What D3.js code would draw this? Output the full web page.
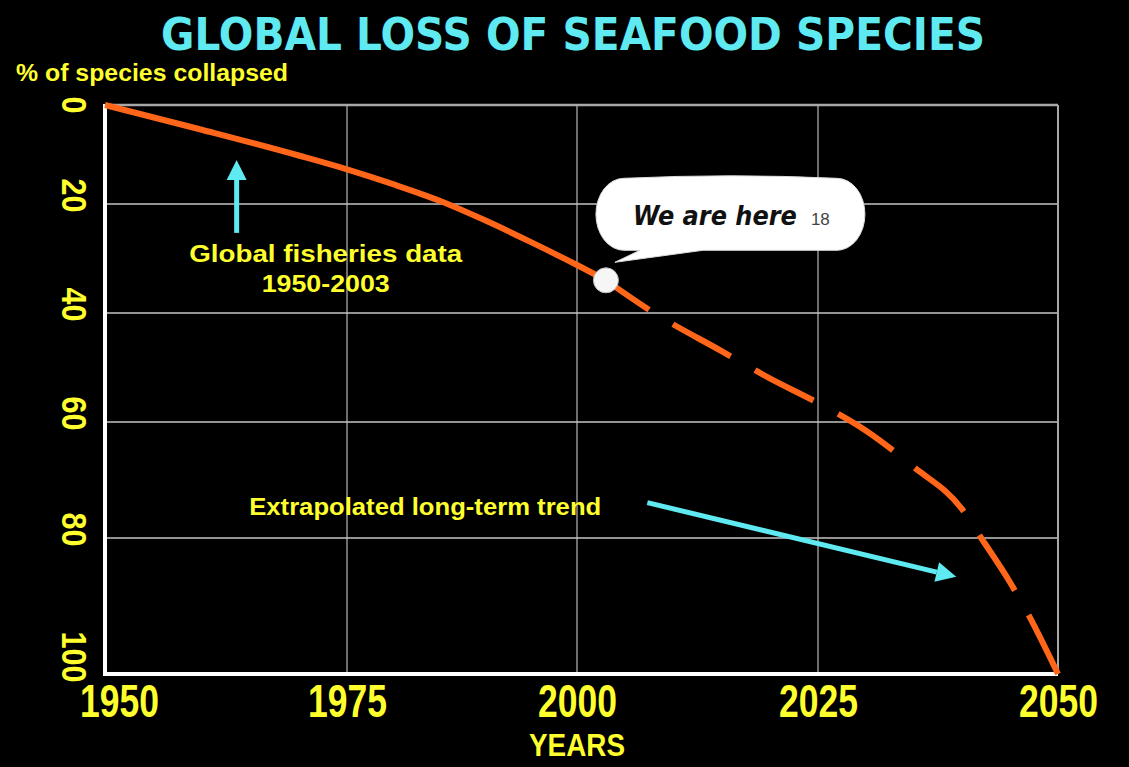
<!DOCTYPE html>
<html>
<head>
<meta charset="utf-8">
<script src="https://cdn.jsdelivr.net/npm/d3@7"></script>
<style>
  html, body { margin: 0; padding: 0; background: #000; }
  svg { display: block; }
</style>
</head>
<body>
<svg id="chart" width="1129" height="767"></svg>
<script>
// Axis ticks
const yearTicks = [1950, 1975, 2000, 2025, 2050];
const pctTicks = [0, 20, 40, 60, 80, 100];

// Observed share of collapsed species (global fisheries data)
const observedYears = [1950, 1960, 1970, 1975, 1980, 1985, 1990, 1995, 2000, 2003];
const observedPct   = [0, 5, 10.2, 13, 16, 19.3, 23, 27, 31.2, 34];

// Extrapolated long-term trend
const trendYears = [2003, 2008, 2015, 2020, 2025, 2030, 2035, 2040, 2042, 2045, 2047, 2050];
const trendPct   = [34, 40, 47, 52, 56.5, 61.5, 67.8, 75, 80, 86.5, 91.5, 100];

// Annotation anchors, in data units [year, percent]
const nowPoint = [2003, 34];
const upArrow = { from: [1963.6, 25.3], to: [1963.6, 11.1] };
const trendArrow = { from: [2007.3, 73.9], to: [2039.4, 85.7] };

const W = 1129, H = 767;
const YELLOW = "#ffff2e";
const CYAN = "#5eeaf0";
const ORANGE = "#ff661a";
const SANS = "'Liberation Sans', Arial, sans-serif";

const svg = d3.select("#chart");
svg.append("rect").attr("width", W).attr("height", H).attr("fill", "#000");

// Scales (the hand-drawn grid is slightly uneven, so each tick gets its own stop)
const x = d3.scaleLinear().domain(yearTicks).range([105, 347, 577, 818, 1058]);
const y = d3.scaleLinear().domain(pctTicks).range([105, 204, 313, 422, 538, 674]);

const x0 = x(yearTicks[0]), x1 = x(yearTicks[yearTicks.length - 1]);
const y0 = y(pctTicks[0]), y1 = y(pctTicks[pctTicks.length - 1]);

// Grid
const grid = svg.append("g");
grid.selectAll("line.v").data(yearTicks.slice(1, -1)).join("line")
  .attr("x1", d => x(d)).attr("x2", d => x(d))
  .attr("y1", y0).attr("y2", y1)
  .attr("stroke", "#b8b8b8").attr("stroke-width", 1.2);
grid.selectAll("line.h").data(pctTicks.slice(1, -1)).join("line")
  .attr("x1", x0).attr("x2", x1)
  .attr("y1", d => y(d)).attr("y2", d => y(d))
  .attr("stroke", "#c4c4c4").attr("stroke-width", 1.6);

// Frame: grey top/right, white left/bottom
grid.append("line").attr("x1", x0).attr("x2", x1).attr("y1", y0).attr("y2", y0)
  .attr("stroke", "#a8a8a8").attr("stroke-width", 2.5);
grid.append("line").attr("x1", x1).attr("x2", x1).attr("y1", y0).attr("y2", y1)
  .attr("stroke", "#a8a8a8").attr("stroke-width", 2);
grid.append("line").attr("x1", x0).attr("x2", x0).attr("y1", y0 - 1).attr("y2", y1 + 2)
  .attr("stroke", "#ffffff").attr("stroke-width", 4);
grid.append("line").attr("x1", x0 - 2).attr("x2", x1).attr("y1", y1).attr("y2", y1)
  .attr("stroke", "#ffffff").attr("stroke-width", 4);

// X axis labels
const xAxis = svg.append("g").attr("transform", `translate(0,${y1})`)
  .call(d3.axisBottom(x).tickValues(yearTicks).tickSize(0).tickFormat(d3.format("d")));
xAxis.select(".domain").remove();
xAxis.selectAll("text")
  .attr("y", 43).attr("dy", 0)
  .attr("dx", (d, i) => i === 0 ? 14 : 0)
  .attr("fill", YELLOW)
  .attr("font-family", SANS).attr("font-weight", "bold").attr("font-size", 46)
  .attr("text-anchor", "middle")
  .attr("textLength", 79).attr("lengthAdjust", "spacingAndGlyphs");

svg.append("text")
  .attr("x", x(2000)).attr("y", 756)
  .attr("text-anchor", "middle")
  .attr("fill", YELLOW).attr("font-family", SANS).attr("font-weight", "bold").attr("font-size", 31)
  .attr("textLength", 96).attr("lengthAdjust", "spacingAndGlyphs")
  .text("YEARS");

// Y axis labels, rotated to read top-to-bottom
const yAxis = svg.append("g").attr("transform", `translate(${x0},0)`)
  .call(d3.axisLeft(y).tickValues(pctTicks).tickSize(0).tickFormat(d3.format("d")));
yAxis.select(".domain").remove();
yAxis.selectAll("text")
  .attr("x", null).attr("dy", null)
  .attr("transform", "translate(-43,8) rotate(90)")
  .attr("text-anchor", "end")
  .attr("fill", YELLOW)
  .attr("font-family", SANS).attr("font-weight", "bold").attr("font-size", 35)
  .attr("textLength", d => String(d).length * 17)
  .attr("lengthAdjust", "spacingAndGlyphs");

svg.append("text")
  .attr("x", 16).attr("y", 81)
  .attr("fill", YELLOW).attr("font-family", SANS).attr("font-weight", "bold").attr("font-size", 24)
  .attr("textLength", 272).attr("lengthAdjust", "spacingAndGlyphs")
  .text("% of species collapsed");

// Title
svg.append("text")
  .attr("x", 573).attr("y", 50)
  .attr("text-anchor", "middle")
  .attr("fill", CYAN).attr("font-family", "'DejaVu Sans', sans-serif")
  .attr("font-weight", "bold").attr("font-size", 44)
  .attr("textLength", 824).attr("lengthAdjust", "spacingAndGlyphs")
  .text("GLOBAL LOSS OF SEAFOOD SPECIES");

// Curves
const line = d3.line().x(d => x(d[0])).y(d => y(d[1])).curve(d3.curveMonotoneX);
const observed = observedYears.map((yr, i) => [yr, observedPct[i]]);
const trend = trendYears.map((yr, i) => [yr, trendPct[i]]);

svg.append("path").datum(observed).attr("d", line)
  .attr("fill", "none").attr("stroke", ORANGE).attr("stroke-width", 6);

const trendPath = svg.append("path").datum(trend).attr("d", line)
  .attr("fill", "none").attr("stroke", ORANGE).attr("stroke-width", 6);
const dash = 66, gap = 28, period = dash + gap;
const L = trendPath.node().getTotalLength();
trendPath.attr("stroke-dasharray", `${dash},${gap}`)
  .attr("stroke-dashoffset", (((dash - L) % period) + period) % period);

// Arrow helper
function arrow(from, to, width, headLen, headWidth) {
  const [ax, ay] = [x(from[0]), y(from[1])];
  const [bx, by] = [x(to[0]), y(to[1])];
  const ang = Math.atan2(by - ay, bx - ax);
  const baseX = bx - headLen * Math.cos(ang), baseY = by - headLen * Math.sin(ang);
  svg.append("line").attr("x1", ax).attr("y1", ay).attr("x2", baseX).attr("y2", baseY)
    .attr("stroke", CYAN).attr("stroke-width", width);
  const px = -Math.sin(ang) * headWidth / 2, py = Math.cos(ang) * headWidth / 2;
  svg.append("path")
    .attr("d", `M${bx},${by}L${baseX + px},${baseY + py}L${baseX - px},${baseY - py}Z`)
    .attr("fill", CYAN);
}
arrow(upArrow.from, upArrow.to, 5, 20, 20);
arrow(trendArrow.from, trendArrow.to, 5, 20, 20);

// Text annotations
const label = (txt, yr, pct, len, anchor) => svg.append("text")
  .attr("x", x(yr)).attr("y", y(pct))
  .attr("text-anchor", anchor)
  .attr("fill", YELLOW).attr("font-family", SANS).attr("font-weight", "bold").attr("font-size", 24)
  .attr("textLength", len).attr("lengthAdjust", "spacingAndGlyphs")
  .text(txt);
label("Global fisheries data", 1972.8, 30.6, 273, "middle");
label("1950-2003", 1972.8, 36.2, 128, "middle");
label("Extrapolated long-term trend", 1964.9, 76.0, 352, "start");

// "We are here" marker and callout
const [nx, ny] = [x(nowPoint[0]), y(nowPoint[1])];
const callout = svg.append("g").attr("transform", `translate(${nx - 6},${ny})`);
const bl = -4, br = 265, bt = -102, bb = -30, rx = 28, ry = (bb - bt) / 2;
callout.append("path")
  .attr("d", `M${bl + rx},${bt} Q${(bl + br) / 2},${bt - 5} ${br - rx},${bt}` +
             ` A${rx},${ry} 0 0 1 ${br - rx},${bb}` +
             ` L103,${bb} L15,-18 L40,${bb}` +
             ` L${bl + rx},${bb} A${rx},${ry} 0 0 1 ${bl + rx},${bt}Z`)
  .attr("fill", "#ffffff").attr("stroke", "#dcdcdc").attr("stroke-width", 1);
callout.append("text")
  .attr("x", 33).attr("y", -55)
  .attr("fill", "#111").attr("font-family", "'DejaVu Sans', sans-serif")
  .attr("font-weight", "bold").attr("font-style", "italic").attr("font-size", 26)
  .attr("textLength", 164).attr("lengthAdjust", "spacingAndGlyphs")
  .text("We are here");
callout.append("text")
  .attr("x", 211).attr("y", -55)
  .attr("fill", "#444").attr("font-family", SANS).attr("font-size", 17)
  .text("18");

svg.append("circle").attr("cx", nx).attr("cy", ny).attr("r", 12.5)
  .attr("fill", "#f6f6f6").attr("stroke", "#bdbdbd").attr("stroke-width", 1);
</script>
</body>
</html>
